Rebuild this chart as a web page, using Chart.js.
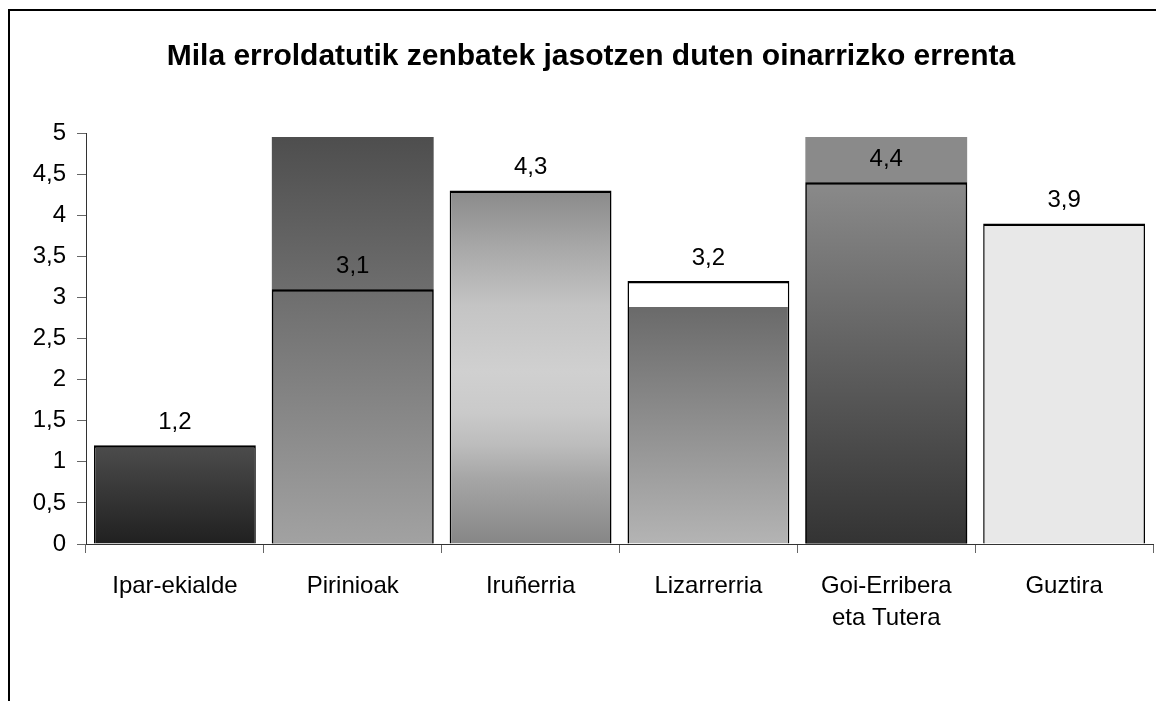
<!DOCTYPE html>
<html>
<head>
<meta charset="utf-8">
<script src="https://cdn.jsdelivr.net/npm/chart.js@4"></script>
<style>
  html, body { margin: 0; padding: 0; background: #fff; overflow: hidden; }
  #wrap { position: relative; width: 1156px; height: 701px; }
  #frame { position: absolute; left: 8px; top: 9px; width: 2000px; height: 2000px;
           border-left: 2px solid #000; border-top: 2px solid #000; pointer-events: none; }
</style>
</head>
<body>
<div id="wrap">
  <canvas id="chart" width="1156" height="701"></canvas>
  <div id="frame"></div>
</div>
<script>
// datuak
const chartTitle = 'Mila erroldatutik zenbatek jasotzen duten oinarrizko errenta';
const categories = ['Ipar-ekialde', 'Pirinioak', 'Iruñerria', 'Lizarrerria', ['Goi-Erribera', 'eta Tutera'], 'Guztira'];
const values = [1.2, 3.1, 4.3, 3.2, 4.4, 3.9];
// gradient fill reaching past the outline (Excel artefact)
const fillExtent = [null, 4.95, null, null, 4.95, null];
const yMax = 5;
const yStep = 0.5;

// gray gradient per bar: [value, color] stops
const shading = [
    [[1.2, '#4c4c4c'], [0, '#202020']],
    [[4.95, '#4e4e4e'], [0, '#a2a2a2']],
    [[4.3, '#8a8a8a'], [3.6, '#a8a8a8'], [2.9, '#c4c4c4'], [2.1, '#d0d0d0'], [1.6, '#cacaca'], [1.2, '#bcbcbc'], [0.8, '#a6a6a6'], [0, '#868686']],
    [[3.2, '#ffffff'], [2.88, '#ffffff'], [2.88, '#6a6a6a'], [0, '#b4b4b4']],
    [[4.95, '#8a8a8a'], [4.4, '#8a8a8a'], [0, '#333333']],
    [[3.9, '#e8e8e8'], [0, '#e8e8e8']]
];

const FONT = "'Liberation Sans', Arial, sans-serif";

function shade(ctx) {
    const chart = ctx.chart;
    if (!chart.chartArea) return '#888';
    const y = chart.scales.y;
    const top = y.getPixelForValue(yMax);
    const bottom = y.getPixelForValue(0);
    const g = chart.ctx.createLinearGradient(0, top, 0, bottom);
    shading[ctx.dataIndex].forEach(([v, c]) => {
        g.addColorStop((y.getPixelForValue(v) - top) / (bottom - top), c);
    });
    return g;
}

// izenburua (a bit right of the canvas centre, like the original)
const titleText = {
    id: 'titleText',
    afterDraw(chart) {
        const ctx = chart.ctx;
        ctx.save();
        ctx.font = 'bold 30px ' + FONT;
        ctx.fillStyle = '#000';
        ctx.textAlign = 'center';
        ctx.textBaseline = 'middle';
        ctx.fillText(chartTitle, chart.width / 2 + 13, 57);
        ctx.restore();
    }
};

// balioak barren gainean
const valueLabels = {
    id: 'valueLabels',
    afterDatasetsDraw(chart) {
        const ctx = chart.ctx;
        const meta = chart.getDatasetMeta(0);
        ctx.save();
        ctx.font = '24px ' + FONT;
        ctx.fillStyle = '#000';
        ctx.textAlign = 'center';
        ctx.textBaseline = 'middle';
        meta.data.forEach((bar, i) => {
            ctx.fillText(String(values[i]).replace('.', ','), bar.x, bar.y - 23);
        });
        ctx.restore();
    }
};

new Chart(document.getElementById('chart'), {
    type: 'bar',
    data: {
        labels: categories,
        datasets: [{
            data: values,
            backgroundColor: shade,
            borderColor: '#000',
            borderWidth: { top: 2.5, left: 1.5, right: 1.5, bottom: 0 },
            grouped: false,
            categoryPercentage: 0.91,
            barPercentage: 1
        }, {
            data: fillExtent,
            backgroundColor: shade,
            borderWidth: 0,
            grouped: false,
            categoryPercentage: 0.91,
            barPercentage: 1
        }]
    },
    options: {
        responsive: false,
        animation: false,
        devicePixelRatio: 1,
        layout: { padding: { left: 0, right: 3, top: 133, bottom: 0 } },
        plugins: {
            legend: { display: false },
            tooltip: { enabled: false },
            title: { display: false }
        },
        scales: {
            x: {
                grid: { drawOnChartArea: false, tickLength: 9, color: '#666' },
                border: { color: '#333', width: 1 },
                ticks: { color: '#000', font: { family: FONT, size: 24, lineHeight: 1.35 }, padding: 17, maxRotation: 0, autoSkip: false },
                afterFit(scale) { scale.height = 157; }
            },
            y: {
                min: 0,
                max: yMax,
                grid: { drawOnChartArea: false, tickLength: 9, color: '#666' },
                border: { color: '#333', width: 1 },
                ticks: {
                    stepSize: yStep,
                    color: '#000',
                    padding: 11,
                    font: { family: FONT, size: 24 },
                    callback: v => String(v).replace('.', ',')
                },
                afterFit(scale) { scale.width = 86; }
            }
        }
    },
    plugins: [titleText, valueLabels]
});
</script>
</body>
</html>
